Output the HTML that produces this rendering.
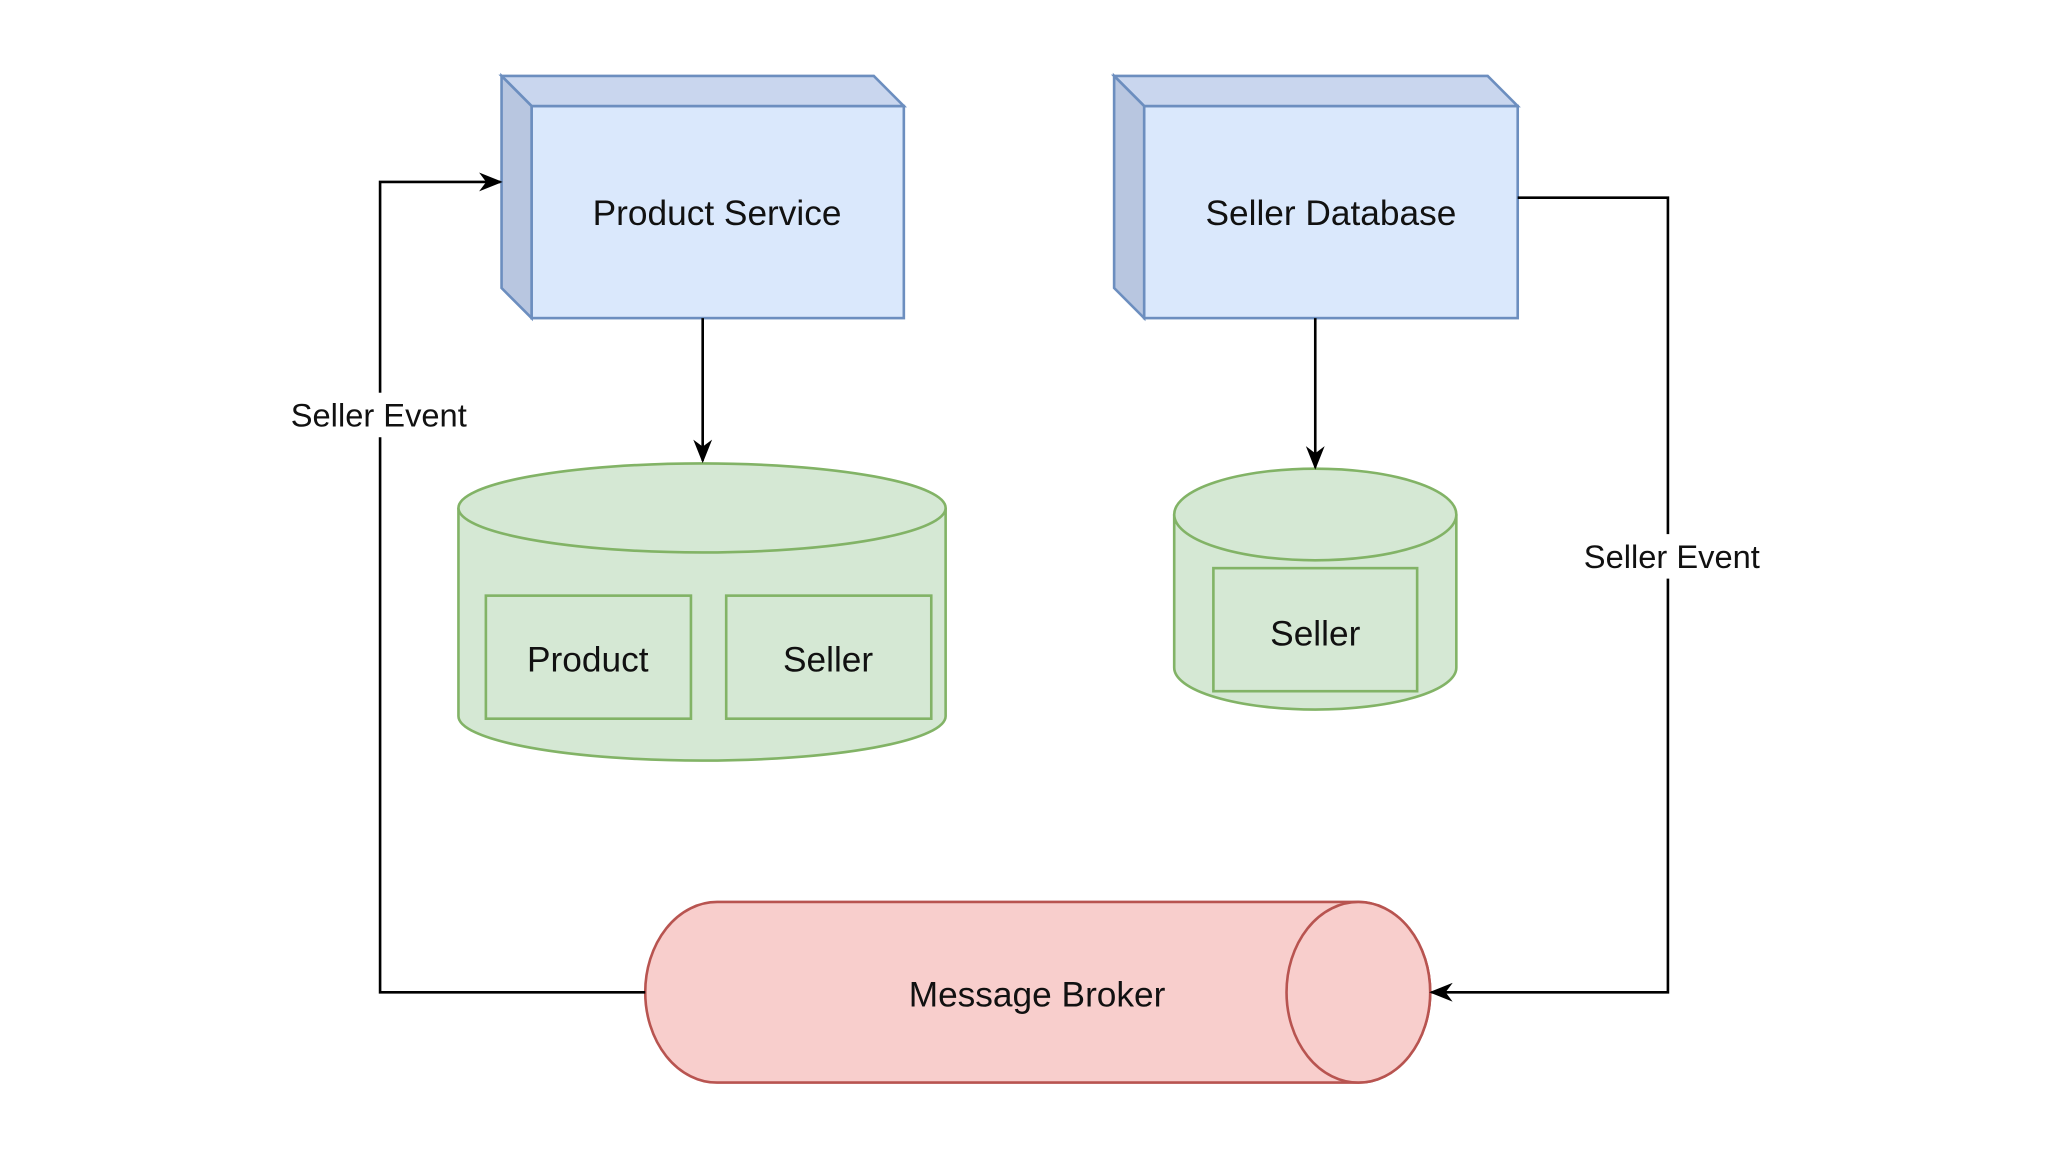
<!DOCTYPE html>
<html><head><meta charset="utf-8"><style>html,body{margin:0;padding:0;background:#fff}svg{display:block}</style></head>
<body>
<svg width="2048" height="1152" viewBox="0 0 1568 880" preserveAspectRatio="none" xmlns="http://www.w3.org/2000/svg" font-family="Liberation Sans, sans-serif">
<defs>
<marker id="a" viewBox="0 0 10 10" refX="9" refY="5" markerWidth="18" markerHeight="18" orient="auto" markerUnits="userSpaceOnUse"><path d="M0,1 L10,5 L0,9 L3,5 z" fill="#000"/></marker>
</defs>
<g stroke-width="2">
<rect x="407" y="81" width="285" height="162" fill="#dae8fc" stroke="#6c8ebf"/>
<path d="M384,58 L669,58 L692,81 L407,81 Z" fill="#c9d6ee" stroke="#6c8ebf"/>
<path d="M384,58 L407,81 L407,243 L384,220 Z" fill="#b8c6e0" stroke="#6c8ebf"/>
<rect x="876" y="81" width="286" height="162" fill="#dae8fc" stroke="#6c8ebf"/>
<path d="M853,58 L1139,58 L1162,81 L876,81 Z" fill="#c9d6ee" stroke="#6c8ebf"/>
<path d="M853,58 L876,81 L876,243 L853,220 Z" fill="#b8c6e0" stroke="#6c8ebf"/>
<path d="M351,388 L351,547 A186.5,34 0 0 0 724,547 L724,388" fill="#d5e8d4" stroke="#82b366"/>
<ellipse cx="537.5" cy="388" rx="186.5" ry="34" fill="#d5e8d4" stroke="#82b366"/>
<rect x="372" y="455" width="157" height="94" fill="#d5e8d4" stroke="#82b366"/>
<rect x="556" y="455" width="157" height="94" fill="#d5e8d4" stroke="#82b366"/>
<path d="M899,393 L899,510 A108,32 0 0 0 1115,510 L1115,393" fill="#d5e8d4" stroke="#82b366"/>
<ellipse cx="1007" cy="393" rx="108" ry="35" fill="#d5e8d4" stroke="#82b366"/>
<rect x="929" y="434" width="156" height="94" fill="#d5e8d4" stroke="#82b366"/>
<path d="M549,689 L1040,689 A55,69 0 0 1 1040,827 L549,827 A55,69 0 0 1 549,689 Z" fill="#f8cecc" stroke="#b85450"/>
<ellipse cx="1040" cy="758" rx="55" ry="69" fill="#f8cecc" stroke="#b85450"/>
</g>
<g stroke="#000" stroke-width="2" fill="none">
<line x1="538" y1="243" x2="538" y2="352" marker-end="url(#a)"/>
<line x1="1007" y1="243" x2="1007" y2="357" marker-end="url(#a)"/>
<path d="M494,758 L291,758 L291,139 L383,139" marker-end="url(#a)"/>
<path d="M1162,151 L1277,151 L1277,758 L1096,758" marker-end="url(#a)"/>
</g>
<rect x="218" y="300" width="146" height="34" fill="#fff"/>
<rect x="1206" y="408" width="148" height="34" fill="#fff"/>
<g fill="#111" text-anchor="middle">
<text x="549" y="172" font-size="27">Product Service</text>
<text x="1019" y="172" font-size="27">Seller Database</text>
<text x="450" y="513" font-size="27">Product</text>
<text x="634" y="513" font-size="27">Seller</text>
<text x="1007" y="493" font-size="27">Seller</text>
<text x="794" y="769" font-size="27">Message Broker</text>
<text x="290" y="326" font-size="25">Seller Event</text>
<text x="1280" y="434" font-size="25">Seller Event</text>
</g>
</svg>
</body></html>
